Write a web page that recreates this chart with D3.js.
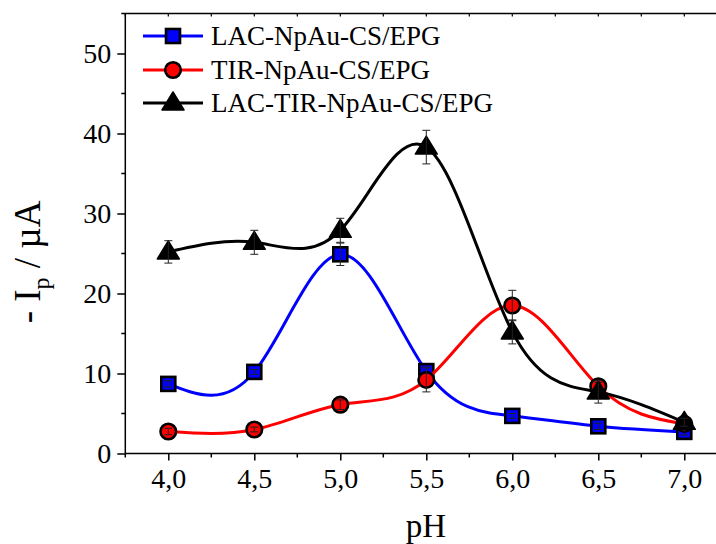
<!DOCTYPE html>
<html><head><meta charset="utf-8">
<script src="https://cdn.jsdelivr.net/npm/d3@7"></script>
<style>
html,body{margin:0;padding:0;background:#fff;}
svg{display:block;font-family:"Liberation Serif","Times New Roman",serif;}
</style></head>
<body><svg id="c" width="716" height="544"></svg>
<script>
const pH = [4.0, 4.5, 5.0, 5.5, 6.0, 6.5, 7.0];
const lacValues = [8.7, 10.2, 24.9, 10.3, 4.7, 3.4, 2.7];
const lacErrors = [0.4, 0.3, 1.4, 0.5, 0.3, 0.4, 0.4];
const tirValues = [2.75, 3.0, 6.1, 9.2, 18.5, 8.4, 3.7];
const tirErrors = [0.4, 0.3, 0.6, 1.5, 1.9, 0.5, 0.4];
const lacTirValues = [25.2, 26.4, 27.9, 38.3, 15.2, 7.7, 3.9];
const lacTirErrors = [1.4, 1.5, 1.5, 2.1, 1.5, 1.4, 0.5];
const seriesNames = ["LAC-NpAu-CS/EPG", "TIR-NpAu-CS/EPG", "LAC-TIR-NpAu-CS/EPG"];
const xTickValues = [4.0, 4.5, 5.0, 5.5, 6.0, 6.5, 7.0];
const yTickValues = [0, 10, 20, 30, 40, 50];

const series = [
  {name: seriesNames[0], values: lacValues, errors: lacErrors, color: "#0000ff", fill: "#0000ff", symbol: "square"},
  {name: seriesNames[1], values: tirValues, errors: tirErrors, color: "#ff0000", fill: "#ff0000", symbol: "circle"},
  {name: seriesNames[2], values: lacTirValues, errors: lacTirErrors, color: "#000000", fill: "#000000", symbol: "triangle"}
];

const svg = d3.select("#c");
const x = d3.scaleLinear().domain([3.75, 7.25]).range([125.3, 727.3]);
const y = d3.scaleLinear().domain([0, 55]).range([453.5, 13.5]);

// frame top and right
svg.append("line").attr("x1", x(3.75)).attr("x2", x(7.25)).attr("y1", y(55)).attr("y2", y(55))
  .attr("stroke", "#000").attr("stroke-width", 1.5);
svg.append("line").attr("x1", x(7.25)).attr("x2", x(7.25)).attr("y1", y(55)).attr("y2", y(0))
  .attr("stroke", "#000").attr("stroke-width", 1.5);
// top minor ticks (inward)
const topTicks = d3.range(3.75, 7.2501, 0.25);
svg.append("g").selectAll("line").data(topTicks).join("line")
  .attr("x1", d => x(d)).attr("x2", d => x(d)).attr("y1", y(55)).attr("y2", y(55) + 3)
  .attr("stroke", "#000").attr("stroke-width", 1.2);

// bottom axis
const xAxis = d3.axisBottom(x).tickValues(xTickValues).tickSize(7).tickPadding(8)
  .tickFormat(d => d3.format(".1f")(d).replace(".", ","));
const gx = svg.append("g").attr("transform", `translate(0,${y(0)})`).call(xAxis);
gx.select(".domain").attr("stroke-width", 1.5).attr("d", `M${x(3.75)},0H${x(7.25)}`);
gx.selectAll(".tick line").attr("stroke-width", 1.5);
gx.selectAll("text").attr("font-size", 28).attr("font-family", "Liberation Serif").attr("fill", "#000");
const xMinor = [3.75, 4.25, 4.75, 5.25, 5.75, 6.25, 6.75, 7.25];
gx.append("g").selectAll("line").data(xMinor).join("line")
  .attr("x1", d => x(d)).attr("x2", d => x(d)).attr("y1", 0).attr("y2", 4)
  .attr("stroke", "#000").attr("stroke-width", 1.5);

// left axis
const yAxis = d3.axisLeft(y).tickValues(yTickValues).tickSize(8).tickPadding(6);
const gy = svg.append("g").attr("transform", `translate(${x(3.75)},0)`).call(yAxis);
gy.select(".domain").attr("stroke-width", 1.5).attr("d", `M0,${y(0)}V${y(55)}`);
gy.selectAll(".tick line").attr("stroke-width", 1.5);
gy.selectAll("text").attr("font-size", 28).attr("font-family", "Liberation Serif").attr("fill", "#000");
const yMinor = [5, 15, 25, 35, 45, 55];
gy.append("g").selectAll("line").data(yMinor).join("line")
  .attr("x1", 0).attr("x2", -4).attr("y1", d => y(d)).attr("y2", d => y(d))
  .attr("stroke", "#000").attr("stroke-width", 1.5);

// axis titles
svg.append("text").attr("x", 426).attr("y", 537).attr("text-anchor", "middle")
  .attr("font-size", 33).attr("fill", "#000").text("pH");
const yl = svg.append("text").attr("transform", "translate(40,262) rotate(-90)")
  .attr("text-anchor", "middle").attr("font-size", 37).attr("fill", "#000");
yl.append("tspan").text("- I");
yl.append("tspan").attr("font-size", 24).attr("dy", 9).text("p");
yl.append("tspan").attr("dy", -9).text(" / µA");

const line = d3.line().x((d, i) => x(pH[i])).y(d => y(d)).curve(d3.curveNatural);

function drawMarker(g, sym, cx, cy, fill) {
  if (sym === "square") {
    g.append("rect").attr("x", cx - 7).attr("y", cy - 7).attr("width", 14).attr("height", 14)
      .attr("fill", fill).attr("stroke", "#000").attr("stroke-width", 2.6);
  } else if (sym === "circle") {
    g.append("circle").attr("cx", cx).attr("cy", cy).attr("r", 7.8)
      .attr("fill", fill).attr("stroke", "#000").attr("stroke-width", 2.6);
  } else {
    g.append("path").attr("d", `M${cx},${cy - 11}L${cx + 11},${cy + 7}L${cx - 11},${cy + 7}Z`)
      .attr("fill", "#000").attr("stroke", "#000").attr("stroke-width", 1.5).attr("stroke-linejoin", "round");
  }
}

series.forEach(s => {
  const g = svg.append("g");
  g.append("path").attr("d", line(s.values)).attr("fill", "none")
    .attr("stroke", s.color).attr("stroke-width", 3);
  s.values.forEach((v, i) => drawMarker(g, s.symbol, x(pH[i]), y(v), s.fill));
  // error bars
  s.values.forEach((v, i) => {
    const cx = x(pH[i]), y1 = y(v + s.errors[i]), y2 = y(v - s.errors[i]);
    g.append("line").attr("x1", cx).attr("x2", cx).attr("y1", y1).attr("y2", y2)
      .attr("stroke", "#222").attr("stroke-width", 1);
    [y1, y2].forEach(yy => g.append("line").attr("x1", cx - 4).attr("x2", cx + 4)
      .attr("y1", yy).attr("y2", yy).attr("stroke", "#222").attr("stroke-width", 1));
  });
});

// legend
const legendY = [36, 70, 103];
series.forEach((s, i) => {
  const g = svg.append("g");
  g.append("line").attr("x1", 143).attr("x2", 203).attr("y1", legendY[i]).attr("y2", legendY[i])
    .attr("stroke", s.color).attr("stroke-width", 3);
  drawMarker(g, s.symbol, 173, legendY[i], s.fill);
  g.append("text").attr("x", 211).attr("y", legendY[i] + 9).attr("font-size", 27)
    .attr("fill", "#000").text(s.name);
});
</script></body></html>
